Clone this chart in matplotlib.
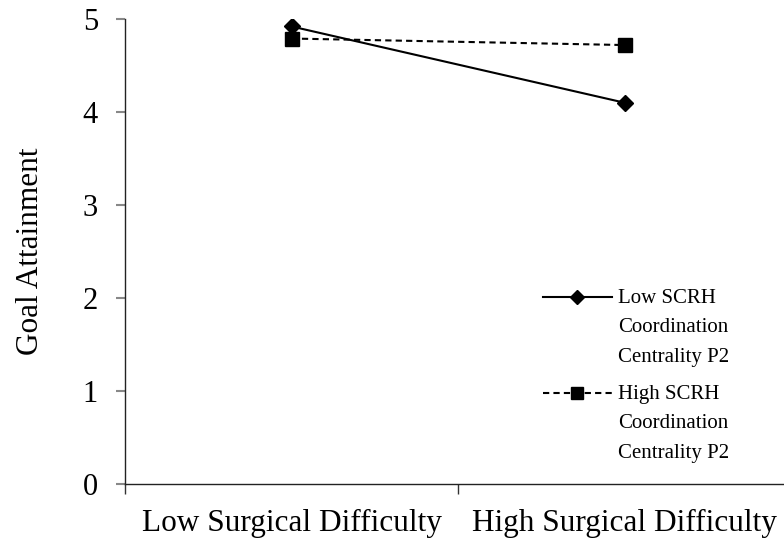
import matplotlib
matplotlib.use("Agg")
import matplotlib.pyplot as plt

categories = ["Low Surgical Difficulty", "High Surgical Difficulty"]
low_scrh = [4.92, 4.10]
high_scrh = [4.79, 4.72]
series_labels = ["Low SCRH\nCoordination\nCentrality P2", "High SCRH\nCoordination\nCentrality P2"]
yticks = [0, 1, 2, 3, 4, 5]

plt.rcParams['font.family'] = ['Liberation Serif', 'DejaVu Serif']

fig = plt.figure(figsize=(7.84, 5.42), dpi=100)
W, H = 666, 465
ax = fig.add_axes([125/784, 58/542, W/784, H/542])

x = [0.5, 1.5]
dash = (0, (3, 2))
ax.plot(x, low_scrh, color='black', lw=1.5, marker='D', markersize=8.5)
ax.plot(x, high_scrh, color='black', lw=1.5, ls=dash, marker='s', markersize=10)

ax.set_xlim(0, 2)
ax.set_ylim(0, 5)
ax.set_yticks(yticks)
ax.set_yticklabels([str(t) for t in yticks], fontsize=22)
ax.set_xticks([0, 1, 2])
ax.set_xticklabels([])
ax.set_xticks(x, minor=True)
ax.set_xticklabels(categories, minor=True, fontsize=22.5)
ax.tick_params(axis='x', which='minor', length=0, pad=18)
ax.tick_params(axis='x', which='major', length=7, direction='out', width=1, color='#333333')
ax.tick_params(axis='y', length=6.5, direction='out', width=1.5, color='#888888', pad=13)

for s in ['top', 'right']:
    ax.spines[s].set_visible(False)
for s in ['left', 'bottom']:
    ax.spines[s].set_linewidth(1)
    ax.spines[s].set_color('#222222')

ax.set_ylabel("Goal Attainment", fontsize=22.5, labelpad=27)

# legend drawn manually in axes coordinates
def ax_xy(px, py):
    return ((px - 125) / W, (484 - py) / H)

entries = [
    (series_labels[0], '-', 'D', 7.5, 297),
    (series_labels[1], dash, 's', 9, 393),
]
for label, ls, mk, ms, py in entries:
    x0, y0 = ax_xy(543, py)
    x1, _ = ax_xy(612, py)
    xm, _ = ax_xy(577, py)
    ax.plot([x0, x1], [y0, y0], color='black', lw=1.5, ls=ls, transform=ax.transAxes, clip_on=False)
    ax.plot([xm], [y0], color='black', marker=mk, markersize=ms, transform=ax.transAxes, clip_on=False)
    tx, ty = ax_xy(618, py - 8)
    ax.text(tx, ty, label, transform=ax.transAxes, fontsize=15, va='top', ha='left',
            linespacing=1.74)

fig.savefig("out.png", dpi=100)
